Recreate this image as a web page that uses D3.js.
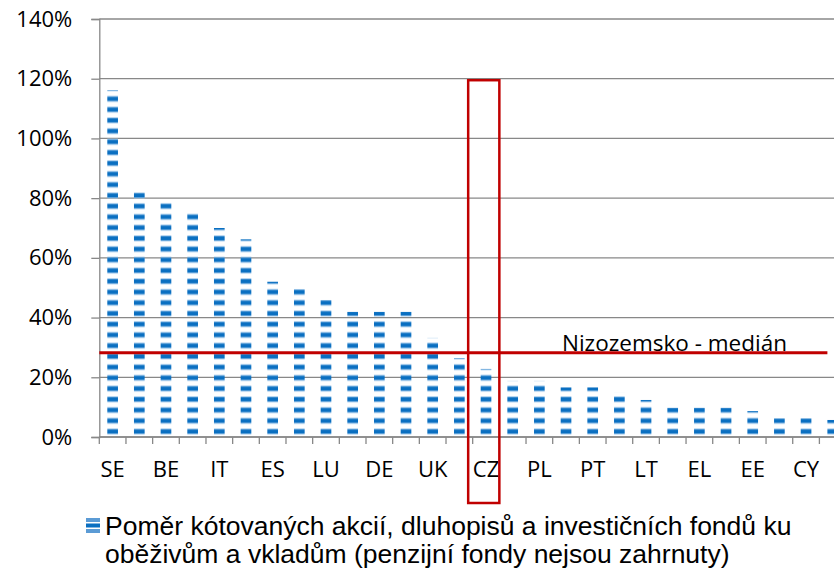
<!DOCTYPE html>
<html>
<head>
<meta charset="utf-8">
<script src="https://cdn.jsdelivr.net/npm/d3@7"></script>
<style>
  html, body { margin: 0; padding: 0; background: #fff; overflow: hidden; }
  svg { display: block; }
</style>
</head>
<body>
<svg id="chart" width="834" height="570"></svg>
<script>
// tick labels (Excel shows only every second country)
const tickLabels = ['SE', '', 'BE', '', 'IT', '', 'ES', '', 'LU', '', 'DE', '', 'UK', '',
  'CZ', '', 'PL', '', 'PT', '', 'LT', '', 'EL', '', 'EE', '', 'CY', ''];
const values = [1.162, 0.82, 0.795, 0.755, 0.70, 0.662, 0.52, 0.496, 0.459, 0.419, 0.419, 0.419,
  0.332, 0.264, 0.228, 0.188, 0.188, 0.166, 0.166, 0.150, 0.124, 0.098, 0.098, 0.098,
  0.087, 0.063, 0.063, 0.057];
const yTicks = [0, 0.2, 0.4, 0.6, 0.8, 1.0, 1.2, 1.4];
const medianValue = 0.282;
const medianLabel = 'Nizozemsko - medián';
const highlight = 'CZ';
const legendLines = ['Poměr kótovaných akcií, dluhopisů a investičních fondů ku',
  'oběživům a vkladům (penzijní fondy nejsou zahrnuty)'];

const svg = d3.select('#chart');
const plotLeft = 99.3, plotTop = 19, plotBottom = 437;
const band = 26.67;
const idx = d3.range(values.length);

const x = d3.scaleBand()
  .domain(idx)
  .range([plotLeft, plotLeft + band * values.length])
  .paddingInner(0.6)
  .paddingOuter(0.3)
  .align(0.5);
const xt = d3.scaleBand().domain(idx).range([plotLeft, plotLeft + band * values.length]);
const y = d3.scaleLinear().domain([0, 1.4]).range([plotBottom, plotTop]);

// stripe pattern anchored at the baseline
const defs = svg.append('defs');
const period = 10.73;
const pat = defs.append('pattern')
  .attr('id', 'stripes')
  .attr('patternUnits', 'userSpaceOnUse')
  .attr('x', 0).attr('y', y(0))
  .attr('width', 10).attr('height', period);
pat.append('rect').attr('x', 0).attr('y', period - 8.5).attr('width', 10).attr('height', 6).attr('fill', '#9cc6ea');
pat.append('rect').attr('x', 0).attr('y', period - 7.5).attr('width', 10).attr('height', 4).attr('fill', '#0a6fc1');

// gridlines
svg.append('g')
  .selectAll('line').data(yTicks).enter().append('line')
  .attr('x1', plotLeft).attr('x2', 834)
  .attr('y1', d => y(d)).attr('y2', d => y(d))
  .style('stroke', '#888').style('stroke-width', 1.3);

// y axis
const yAxis = svg.append('g')
  .attr('transform', `translate(${plotLeft},0)`)
  .call(d3.axisLeft(y).tickValues(yTicks).tickFormat(d3.format('.0%')).tickSize(8).tickPadding(19));
yAxis.select('.domain').attr('stroke', '#888').attr('stroke-width', 1.3);
yAxis.selectAll('.tick line').attr('stroke', '#888').attr('stroke-width', 1.3);
yAxis.selectAll('text')
  .style('font-family', '"Open Sans", sans-serif')
  .style('font-size', '22px').attr('fill', '#000');

// bars
svg.append('g').classed('bars', true)
  .selectAll('rect').data(values).enter().append('rect')
  .attr('x', (d, i) => x(i))
  .attr('width', x.bandwidth())
  .attr('y', d => y(d))
  .attr('height', d => y(0) - y(d))
  .attr('fill', 'url(#stripes)');

// x axis
const xAxis = svg.append('g')
  .attr('transform', `translate(0,${plotBottom})`)
  .call(d3.axisBottom(xt).tickSize(0).tickFormat(i => tickLabels[i]).tickPadding(24));
xAxis.select('.domain').remove();
xAxis.selectAll('text')
  .style('font-family', '"Open Sans", sans-serif')
  .style('font-size', '22px').attr('fill', '#000');
svg.append('line')
  .attr('x1', plotLeft).attr('x2', 834).attr('y1', plotBottom).attr('y2', plotBottom)
  .style('stroke', '#888').style('stroke-width', 1.3);
svg.append('g')
  .selectAll('line').data(d3.range(values.length + 1)).enter().append('line')
  .attr('x1', i => plotLeft + i * band).attr('x2', i => plotLeft + i * band)
  .attr('y1', plotBottom).attr('y2', plotBottom + 7)
  .style('stroke', '#888').style('stroke-width', 1.3);

// median line
svg.append('line')
  .attr('x1', plotLeft).attr('x2', xt(values.length - 1) + band * 0.3)
  .attr('y1', y(medianValue)).attr('y2', y(medianValue))
  .style('stroke', '#c00000').style('stroke-width', 3);
svg.append('text')
  .attr('x', 562).attr('y', y(medianValue) - 2)
  .style('font-family', '"Open Sans", sans-serif')
  .style('font-size', '22.5px')
  .text(medianLabel);

// highlight box around CZ
const hi = tickLabels.indexOf(highlight);
svg.append('rect')
  .attr('x', xt(hi) - 4.5)
  .attr('y', y(1.2) + 1.5)
  .attr('width', xt.bandwidth() + 4.5)
  .attr('height', 503 - y(1.2) - 1.5)
  .attr('fill', 'none')
  .style('stroke', '#c00000').style('stroke-width', 2.5);

// legend
const lg = svg.append('g');
lg.append('rect').attr('x', 86).attr('y', 518).attr('width', 14).attr('height', 4).attr('fill', '#5b9bd5');
lg.append('rect').attr('x', 86).attr('y', 523.5).attr('width', 14).attr('height', 4).attr('fill', '#0a6fc1');
lg.append('rect').attr('x', 86).attr('y', 529).attr('width', 14).attr('height', 4).attr('fill', '#5b9bd5');
lg.selectAll('text').data(legendLines).enter().append('text')
  .attr('x', 105).attr('y', (d, i) => 535 + i * 28)
  .style('font-family', '"Liberation Sans", Arial, sans-serif')
  .style('font-size', '26.5px')
  .text(d => d);
</script>
</body>
</html>
